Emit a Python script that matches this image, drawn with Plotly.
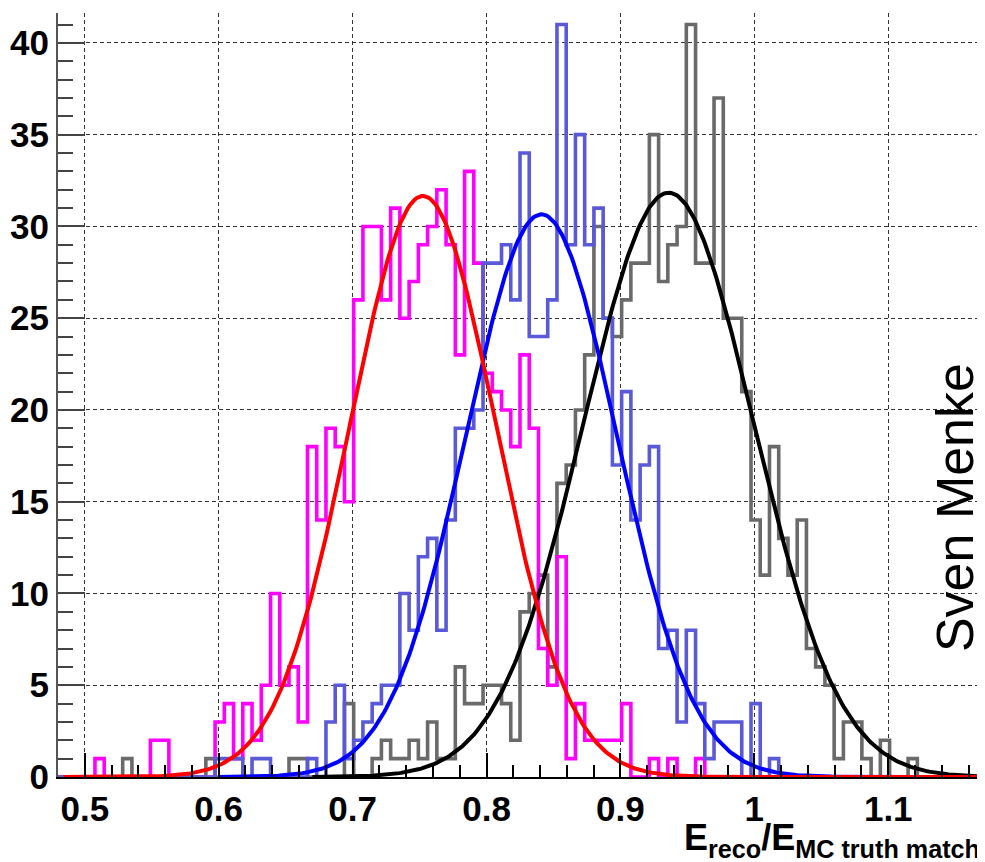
import plotly.graph_objects as go
import numpy as np

# ---- histogram binning (ROOT style: 100 bins between 0.48 and 1.17) ----
hist_xmin = 0.48
hist_xmax = 1.17
n_bins = 100

# ---- bin contents ----
counts_magenta = [
    0, 0, 0, 0, 1, 0, 0, 0, 0, 0,
    2, 2, 0, 0, 0, 0, 0, 3, 4, 1,
    4, 2, 5, 10, 5, 6, 3, 18, 14, 19,
    18, 15, 26, 30, 30, 26, 31, 25, 27, 29,
    30, 32, 29, 23, 33, 28, 22, 21, 20, 18,
    23, 19, 7, 5, 12, 1, 4, 2, 2, 2,
    2, 4, 0, 0, 1, 0, 1, 0, 0, 1,
    0, 0, 0, 0, 0, 0, 0, 0, 0, 0,
    0, 0, 0, 0, 0, 0, 0, 0, 0, 0,
    0, 0, 0, 0, 0, 0, 0, 0, 0, 0,
]
counts_blue = [
    0, 0, 0, 0, 0, 0, 0, 0, 0, 0,
    0, 0, 0, 0, 0, 0, 0, 1, 1, 1,
    0, 1, 1, 0, 0, 0, 0, 1, 0, 3,
    5, 1, 2, 3, 4, 5, 5, 10, 8, 12,
    13, 8, 14, 19, 19, 20, 28, 28, 29, 26,
    34, 24, 24, 26, 41, 29, 35, 29, 31, 25,
    17, 21, 14, 17, 18, 7, 8, 3, 8, 4,
    1, 3, 3, 3, 0, 4, 0, 1, 0, 0,
    0, 0, 0, 0, 0, 0, 0, 0, 0, 0,
    0, 0, 0, 0, 0, 0, 0, 0, 0, 0,
]
counts_gray = [
    0, 0, 0, 0, 0, 0, 0, 1, 0, 0,
    0, 0, 0, 0, 0, 0, 1, 0, 0, 0,
    0, 0, 0, 0, 0, 1, 1, 0, 0, 0,
    0, 4, 0, 0, 1, 2, 1, 1, 2, 1,
    3, 1, 1, 6, 4, 4, 5, 5, 4, 2,
    9, 10, 11, 6, 16, 17, 20, 23, 30, 25,
    24, 26, 28, 28, 35, 27, 29, 30, 41, 28,
    28, 37, 25, 25, 21, 14, 11, 18, 13, 11,
    14, 7, 6, 5, 1, 3, 3, 1, 0, 2,
    0, 0, 1, 0, 0, 0, 0, 0, 0, 0,
]

# ---- Gaussian fit parameters ----
fit_names = ["red", "blue", "black"]
fit_const = [31.66, 30.66, 31.84]
fit_mean = [0.7525, 0.841, 0.936]
fit_sigma = [0.0545, 0.0565, 0.0635]
fit_xlo = [0.484, 0.600, 0.670]
fit_xhi = [1.168, 1.168, 1.168]

# ---- tick labels ----
x_tickvals = [0.5, 0.6, 0.7, 0.8, 0.9, 1.0, 1.1]
x_ticktext = ["0.5", "0.6", "0.7", "0.8", "0.9", "1", "1.1"]
y_tickvals = [0, 5, 10, 15, 20, 25, 30, 35, 40]
y_ticktext = ["0", "5", "10", "15", "20", "25", "30", "35", "40"]

edges = np.linspace(hist_xmin, hist_xmax, n_bins + 1)


def step_trace(counts, color, width=3.6):
    ys = list(counts) + [counts[-1]]
    return go.Scatter(x=edges, y=ys, mode="lines", line=dict(color=color, width=width, shape="hv"),
                      hoverinfo="skip", showlegend=False)


fig = go.Figure()
fig.add_trace(step_trace(counts_gray, "#6a6a6a"))
fig.add_trace(step_trace(counts_magenta, "#ff00ff"))
fig.add_trace(step_trace(counts_blue, "#5a5ad8"))

fit_colors = {"red": "#ff0000", "blue": "#0000ff", "black": "#000000"}
for name, a, m, s, lo, hi in zip(fit_names[::-1], fit_const[::-1], fit_mean[::-1], fit_sigma[::-1],
                                 fit_xlo[::-1], fit_xhi[::-1]):
    xs = np.linspace(lo, hi, 400)
    ys = a * np.exp(-0.5 * ((xs - m) / s) ** 2)
    fig.add_trace(go.Scatter(x=xs, y=ys, mode="lines", line=dict(color=fit_colors[name], width=4),
                             hoverinfo="skip", showlegend=False))

tick_font = dict(family="Liberation Sans, Arial, sans-serif", size=35, color="black", weight="bold")

# the page body adds an 8px offset, so the figure is sized/margined to compensate
fig.update_layout(
    width=977, height=854,
    margin=dict(l=50, r=3, t=5, b=85, autoexpand=False),
    paper_bgcolor="white", plot_bgcolor="white",
    showlegend=False,
    xaxis=dict(
        range=[hist_xmin, hist_xmax], automargin=False,
        tickvals=x_tickvals, ticktext=x_ticktext,
        ticks="inside", ticklen=24, tickwidth=1.5, tickcolor="black",
        minor=dict(ticks="inside", dtick=0.02, ticklen=12, tickwidth=1.5, tickcolor="black", showgrid=False),
        showgrid=True, gridcolor="#333333", gridwidth=1, griddash="4px,3px",
        showline=True, linecolor="black", linewidth=2, mirror=False,
        zeroline=False, tickfont=tick_font, ticklabelstandoff=0,
    ),
    yaxis=dict(
        range=[0, 41.63], automargin=False,
        tickvals=y_tickvals, ticktext=y_ticktext,
        ticks="inside", ticklen=27, tickwidth=1.5, tickcolor="#444444",
        minor=dict(ticks="inside", dtick=1, ticklen=15, tickwidth=1.5, tickcolor="#444444", showgrid=False),
        showgrid=True, gridcolor="#333333", gridwidth=1, griddash="4px,3px",
        showline=True, linecolor="#555555", linewidth=2, mirror=True,
        zeroline=False, tickfont=tick_font, ticklabelstandoff=0,
    ),
)

fig.add_annotation(
    xref="paper", yref="paper", x=1.0, y=-0.05, xanchor="right", yanchor="top",
    text="<b>E<sub>reco</sub>/E<sub>MC truth match</sub></b>",
    showarrow=False, font=dict(family="Liberation Sans, Arial, sans-serif", size=36, color="black"),
)
fig.add_annotation(
    xref="paper", yref="paper", x=0.9708, y=0.352, xanchor="center", yanchor="middle",
    text="Sven Menke", textangle=-90, showarrow=False,
    font=dict(family="Liberation Sans, Arial, sans-serif", size=52, color="black"),
)

fig.write_html("out.html")
